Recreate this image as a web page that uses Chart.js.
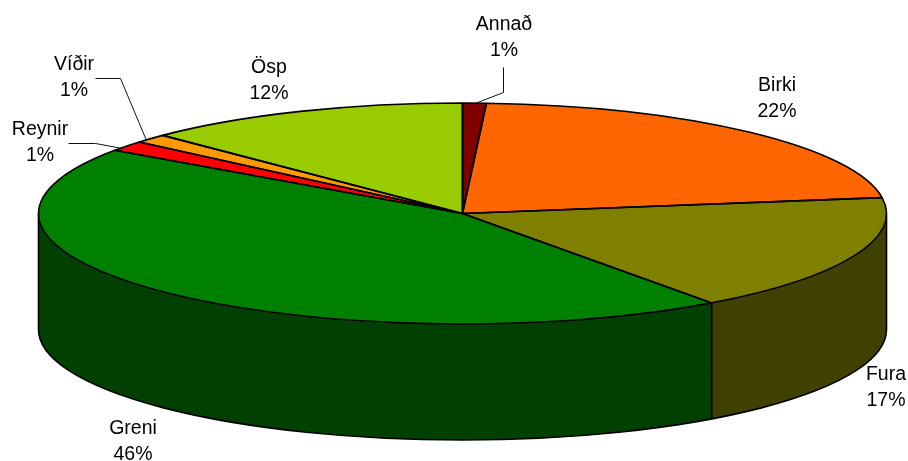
<!DOCTYPE html>
<html>
<head>
<meta charset="utf-8">
<style>html,body{margin:0;padding:0;background:#fff}canvas{display:block}</style>
<script src="https://cdn.jsdelivr.net/npm/chart.js@4/dist/chart.umd.js"></script>
</head>
<body>
<canvas id="c" width="908" height="461"></canvas>
<script>
const categories = ['Annað','Birki','Fura','Greni','Reynir','Víðir','Ösp'];
const shares = [0.9,21.8,17.3,44.7,1.5,1.3,12.5];
const percentLabels = ['1%','22%','17%','46%','1%','1%','12%'];
const topColors = ['#800000','#FF6600','#808000','#008000','#FF0000','#FF9900','#99CC00'];
const sideColors = ['#400000','#803300','#404000','#004000','#800000','#804D00','#4D6600'];

// Layout of the drawn pie and its annotations
const pie = {cx:462.5, cy:213.5, rx:424, ry:110.5, depth:116};
const labelCentres = [[504,25],[777,86],[886,375],[133,429],[40,130],[74,65],[269,68]];
const lineGap = 26;
const leaders = [
  [[503,67],[503,92],[472,104]],
  [[68,143],[95,143],[122,148]],
  [[95,78],[120,78],[146,140]]
];

function applyPieTransform(ctx,arc){
  const s = arc.outerRadius;
  ctx.setTransform(pie.rx/s,0,0,pie.ry/s,pie.cx-arc.x*pie.rx/s,pie.cy-arc.y*pie.ry/s);
}
const pie3d = {
  id:'pie3d',
  beforeDatasetsDraw(chart){
    const ctx = chart.ctx, arcs = chart.getDatasetMeta(0).data;
    const {cx,cy,rx,ry,depth}=pie;
    // side walls follow the arc elements' own angles
    arcs.forEach((arc,i)=>{
      const a0=Math.max(arc.startAngle,0), a1=Math.min(arc.endAngle,Math.PI);
      if(a1<=a0) return;
      ctx.beginPath();
      ctx.ellipse(cx,cy,rx,ry,0,a0,a1);
      ctx.ellipse(cx,cy+depth,rx,ry,0,a1,a0,true);
      ctx.closePath();
      ctx.fillStyle=sideColors[i];
      ctx.fill();
    });
    ctx.save();
    applyPieTransform(ctx,arcs[0]);
  },
  afterDatasetsDraw(chart){
    const ctx = chart.ctx, arcs = chart.getDatasetMeta(0).data;
    ctx.restore();
    ctx.save();
    ctx.setTransform(1,0,0,1,0,0);
    ctx.strokeStyle='#000';
    ctx.lineWidth=1.6;
    ctx.lineJoin='round';
    const {cx,cy,rx,ry,depth}=pie;
    // side outline
    ctx.beginPath();
    ctx.moveTo(cx+rx,cy);
    ctx.lineTo(cx+rx,cy+depth);
    ctx.ellipse(cx,cy+depth,rx,ry,0,0,Math.PI);
    ctx.lineTo(cx-rx,cy);
    arcs.forEach(arc=>{
      const a=arc.startAngle;
      if(Math.sin(a)>0){
        const x=cx+rx*Math.cos(a), y=cy+ry*Math.sin(a);
        ctx.moveTo(x,y); ctx.lineTo(x,y+depth);
      }
    });
    ctx.stroke();
    // top face slices
    arcs.forEach(arc=>{
      ctx.beginPath();
      ctx.moveTo(cx,cy);
      ctx.ellipse(cx,cy,rx,ry,0,arc.startAngle,arc.endAngle);
      ctx.closePath();
      ctx.stroke();
    });
    // leader lines
    ctx.lineWidth=1;
    ctx.strokeStyle='#111';
    leaders.forEach(l=>{
      ctx.beginPath();
      l.forEach((p,i)=> i?ctx.lineTo(p[0]+.5,p[1]+.5):ctx.moveTo(p[0]+.5,p[1]+.5));
      ctx.stroke();
    });
    // labels
    ctx.fillStyle='#000';
    ctx.font='19.5px "Liberation Sans"';
    ctx.textAlign='center';
    ctx.textBaseline='middle';
    categories.forEach((name,i)=>{
      const [x,y]=labelCentres[i];
      ctx.fillText(name,x,y);
      ctx.fillText(percentLabels[i],x,y+lineGap);
    });
    ctx.restore();
  }
};

new Chart(document.getElementById('c'),{
  type:'pie',
  data:{labels:categories,datasets:[{data:shares,backgroundColor:topColors,borderWidth:0,clip:false}]},
  options:{
    responsive:false,
    animation:false,
    events:[],
    layout:{padding:0},
    plugins:{legend:{display:false},tooltip:{enabled:false},title:{display:false}}
  },
  plugins:[pie3d]
});
</script>
</body>
</html>
